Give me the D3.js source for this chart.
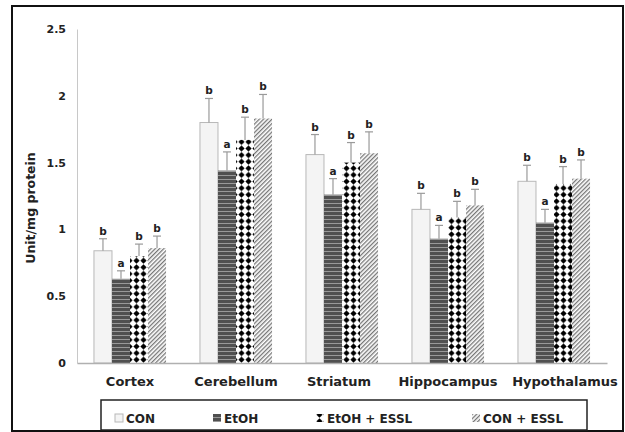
<!DOCTYPE html>
<html>
<head>
<script src="https://d3js.org/d3.v7.min.js"></script>
<style>
body { margin: 0; background: #fff; }
text { font-family: "DejaVu Sans", Verdana, sans-serif; font-weight: bold; }
</style>
</head>
<body>
<script>
// brain region categories and the four treatment groups
var regions = ["Cortex", "Cerebellum", "Striatum", "Hippocampus", "Hypothalamus"];
var groups = ["CON", "EtOH", "EtOH + ESSL", "CON + ESSL"];

// mean values (Unit/mg protein)
var conVals  = [0.84, 1.80, 1.56, 1.15, 1.36];
var etohVals = [0.63, 1.44, 1.26, 0.93, 1.05];
var etohEsslVals = [0.80, 1.67, 1.50, 1.09, 1.34];
var conEsslVals  = [0.86, 1.83, 1.57, 1.18, 1.38];

// error bar sizes
var conErr  = [0.09, 0.18, 0.15, 0.12, 0.12];
var etohErr = [0.06, 0.14, 0.12, 0.10, 0.10];
var etohEsslErr = [0.09, 0.17, 0.15, 0.12, 0.13];
var conEsslErr  = [0.09, 0.18, 0.16, 0.12, 0.14];

// significance letters
var conLet  = ["b", "b", "b", "b", "b"];
var etohLet = ["a", "a", "a", "a", "a"];
var etohEsslLet = ["b", "b", "b", "b", "b"];
var conEsslLet  = ["b", "b", "b", "b", "b"];

var yTicks = [0, 0.5, 1, 1.5, 2, 2.5];

var allVals = [conVals, etohVals, etohEsslVals, conEsslVals];
var allErr = [conErr, etohErr, etohEsslErr, conEsslErr];
var allLet = [conLet, etohLet, etohEsslLet, conEsslLet];
var fills = ["#f4f4f4", "url(#stripes)", "url(#diamonds)", "url(#hatch)"];
var strokes = ["#b8b8b8", "none", "none", "none"];

var W = 625, H = 432;
var svg = d3.select("body").append("svg")
  .attr("width", W)
  .attr("height", H);

// patterns
var defs = svg.append("defs");

var p1 = defs.append("pattern").attr("id", "stripes")
  .attr("patternUnits", "userSpaceOnUse").attr("width", 6).attr("height", 4);
p1.append("rect").attr("width", 6).attr("height", 4).attr("fill", "#505050");
p1.append("rect").attr("y", 3).attr("width", 6).attr("height", 1).attr("fill", "#999");

var p2 = defs.append("pattern").attr("id", "diamonds")
  .attr("patternUnits", "userSpaceOnUse").attr("width", 7).attr("height", 6.6);
p2.append("rect").attr("width", 7).attr("height", 6.6).attr("fill", "#fff");
p2.append("polygon").attr("points", "3.5,0.2 6.6,3.3 3.5,6.4 0.4,3.3").attr("fill", "#000");

var p3 = defs.append("pattern").attr("id", "hatch")
  .attr("patternUnits", "userSpaceOnUse").attr("width", 3).attr("height", 3)
  .attr("patternTransform", "rotate(45)");
p3.append("rect").attr("width", 3).attr("height", 3).attr("fill", "#fff");
p3.append("rect").attr("width", 1.3).attr("height", 3).attr("fill", "#777");

// outer frame
svg.append("rect")
  .attr("x", 12).attr("y", 6)
  .attr("width", 611).attr("height", 425)
  .attr("fill", "none").attr("stroke", "#111").attr("stroke-width", 2);

var margin = {top: 29, left: 77, right: 18, bottom: 69};

var x0 = d3.scaleBand()
  .domain(regions)
  .range([margin.left, W - margin.right])
  .paddingInner(0.32)
  .paddingOuter(0.16);

var x1 = d3.scaleBand()
  .domain(groups)
  .range([0, x0.bandwidth()]);

var y = d3.scaleLinear()
  .domain([0, 2.5])
  .range([H - margin.bottom, margin.top]);

// y axis
var yAx = svg.append("g")
  .attr("transform", `translate(${margin.left},0)`)
  .call(d3.axisLeft(y).tickValues(yTicks).tickSize(0).tickPadding(11).tickFormat(d3.format("")));
yAx.select(".domain").attr("stroke", "#c8c8c8");
yAx.selectAll("text").attr("font-size", 11).attr("fill", "#222");

// bars
for (var s = 0; s < groups.length; s++) {
  var g = svg.append("g");
  var rows = regions.map(function(r, i) {
    return {region: r, v: allVals[s][i], e: allErr[s][i], l: allLet[s][i]};
  });
  var gname = groups[s];

  g.selectAll("rect")
    .data(rows)
    .enter().append("rect")
    .attr("x", function(d) { return x0(d.region) + x1(gname); })
    .attr("y", function(d) { return y(d.v); })
    .attr("width", x1.bandwidth())
    .attr("height", function(d) { return y(0) - y(d.v); })
    .attr("fill", fills[s])
    .attr("stroke", strokes[s])
    .attr("stroke-width", 1);

  // error bars
  g.selectAll("line.err")
    .data(rows)
    .enter().append("line")
    .attr("class", "err")
    .attr("x1", function(d) { return x0(d.region) + x1(gname) + x1.bandwidth() / 2; })
    .attr("x2", function(d) { return x0(d.region) + x1(gname) + x1.bandwidth() / 2; })
    .attr("y1", function(d) { return y(d.v); })
    .attr("y2", function(d) { return y(d.v + d.e); })
    .attr("stroke", "#9a9a9a").attr("stroke-width", 1.2);

  g.selectAll("line.cap")
    .data(rows)
    .enter().append("line")
    .attr("class", "cap")
    .attr("x1", function(d) { return x0(d.region) + x1(gname) + x1.bandwidth() / 2 - 4; })
    .attr("x2", function(d) { return x0(d.region) + x1(gname) + x1.bandwidth() / 2 + 4; })
    .attr("y1", function(d) { return y(d.v + d.e); })
    .attr("y2", function(d) { return y(d.v + d.e); })
    .attr("stroke", "#9a9a9a").attr("stroke-width", 1.2);

  g.selectAll("text")
    .data(rows)
    .enter().append("text")
    .attr("x", function(d) { return x0(d.region) + x1(gname) + x1.bandwidth() / 2; })
    .attr("y", function(d) { return y(d.v + d.e) - 4; })
    .attr("text-anchor", "middle")
    .attr("font-size", 10.5)
    .attr("fill", "#222")
    .text(function(d) { return d.l; });
}

// x axis
var xAx = svg.append("g")
  .attr("transform", `translate(0,${y(0)})`)
  .call(d3.axisBottom(x0).tickSize(0).tickPadding(14));
xAx.select(".domain").attr("stroke", "#b0b0b0").attr("stroke-width", 1.5);
xAx.selectAll("text").attr("font-size", 13).attr("fill", "#222")
  .attr("dx", function(d, i) { return i == regions.length - 1 ? 11 : (i == 2 ? -3 : 0); });

// y axis title
svg.append("text")
  .attr("transform", "translate(35,208) rotate(-90)")
  .attr("text-anchor", "middle")
  .attr("font-size", 12.5)
  .attr("fill", "#222")
  .text("Unit/mg protein");

// legend
svg.append("rect")
  .attr("x", 101).attr("y", 400)
  .attr("width", 486).attr("height", 30)
  .attr("fill", "#fff").attr("stroke", "#222").attr("stroke-width", 1.5);

var legX = [115, 213, 316, 472];
var leg = svg.selectAll("g.leg")
  .data(groups)
  .enter().append("g")
  .attr("class", "leg")
  .attr("transform", function(d, i) { return `translate(${legX[i]},418)`; });
leg.append("rect")
  .attr("x", 0).attr("y", -4)
  .attr("width", 8).attr("height", 8)
  .attr("fill", function(d, i) { return fills[i]; })
  .attr("stroke", function(d, i) { return i == 0 ? "#b8b8b8" : "none"; });
leg.append("text")
  .attr("x", 11).attr("y", 4.5)
  .attr("font-size", 12)
  .attr("fill", "#222")
  .text(function(d) { return d; });
</script>
</body>
</html>
